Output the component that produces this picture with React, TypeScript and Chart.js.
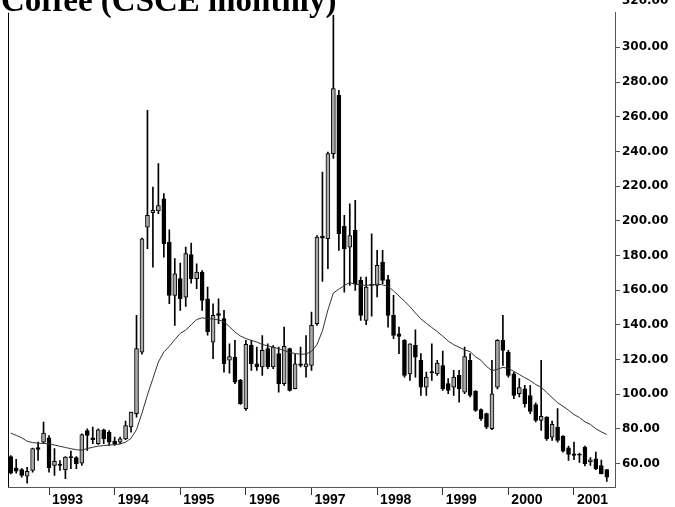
import React, { useEffect, useRef } from 'react';
import { Chart, registerables } from 'chart.js';

Chart.register(...registerables);

const TITLE = 'Coffee (CSCE monthly)';
const TOP_LABEL = '320.00';

// Monthly categories: Jun 1992 .. Aug 2001 (last slot empty)
const START_YEAR = 1992;
const START_MONTH = 6;
const N_SLOTS = 111;
const months: string[] = [];
for (let k = 0; k < N_SLOTS; k++) {
  const m = START_MONTH - 1 + k;
  const y = START_YEAR + Math.floor(m / 12);
  const mm = (m % 12) + 1;
  months.push(`${y}-${mm < 10 ? '0' + mm : mm}`);
}

const opens = [64.0,57.3,56.5,52.7,56.0,69.2,72.3,74.8,58.8,59.6,
56.4,64.0,63.3,60.2,79.0,74.8,71.4,79.4,78.0,72.9,
72.3,74.2,81.0,88.7,124.2,196.3,204.6,205.6,212.7,187.7,
156.9,166.6,155.9,180.4,166.6,170.4,155.0,130.0,146.4,143.5,
119.6,121.3,107.9,91.6,128.1,117.5,115.6,126.2,115.6,123.3,
106.0,126.2,103.1,117.5,115.6,116.5,140.6,191.2,189.6,238.7,
272.3,196.7,184.8,194.4,165.6,142.5,163.2,162.7,176.1,166.0,
145.4,134.8,131.0,111.7,128.1,119.4,104.0,113.0,111.7,116.5,
106.0,104.0,110.8,101.1,119.4,101.7,91.0,88.7,80.0,104.0,
131.0,124.2,111.7,100.2,103.1,99.2,94.0,84.8,86.7,75.2,
81.0,75.6,69.0,65.6,65.0,69.4,60.8,62.7,58.8,56.4];

const highs = [64.5,62.3,57.0,57.7,68.8,72.3,83.8,76.0,68.5,61.7,
64.0,67.1,64.0,77.1,80.0,81.0,80.0,79.8,79.0,75.2,
75.2,84.4,89.6,145.4,190.0,263.7,219.4,232.9,215.6,194.8,
178.1,175.6,184.8,187.1,175.2,171.3,161.7,152.1,155.0,148.3,
129.0,131.0,108.5,131.0,131.0,127.1,133.8,129.0,128.0,127.1,
138.6,126.5,123.0,127.1,133.8,147.3,191.5,228.0,239.6,318.5,
275.2,203.1,209.8,211.7,167.5,167.5,192.5,182.9,182.9,168.5,
156.9,138.6,131.5,129.0,137.1,123.3,112.7,129.0,119.4,124.8,
108.9,113.7,113.7,127.1,123.3,102.0,91.5,89.0,119.4,131.5,
145.4,125.2,112.7,108.9,105.0,105.0,95.0,119.4,87.0,84.4,
91.6,76.0,70.0,72.3,66.0,70.0,63.3,66.5,62.0,56.5];

const lows = [54.0,54.4,52.1,48.6,55.0,61.7,71.5,55.0,53.1,56.0,
51.2,57.0,57.0,58.8,67.5,71.4,71.0,71.4,70.4,70.4,
71.4,73.7,78.0,86.7,123.0,183.9,173.2,204.0,179.0,152.1,
139.6,148.3,150.6,164.0,160.8,148.3,134.0,120.4,140.6,112.7,
112.0,106.0,94.0,90.6,113.7,113.7,110.8,114.6,114.6,101.1,
105.0,101.7,103.0,115.6,109.8,113.7,139.6,165.0,172.3,236.0,
182.9,158.8,162.7,159.8,142.5,140.0,145.0,156.0,163.7,138.6,
131.9,123.3,109.8,107.9,109.8,99.2,99.2,107.9,110.8,102.1,
100.2,99.2,95.4,100.2,98.3,90.0,84.8,80.0,79.5,103.0,
116.5,109.8,97.3,98.3,92.5,88.7,84.0,79.0,73.3,73.3,
72.3,66.5,61.7,62.1,60.6,58.5,58.8,56.4,54.0,49.6];

const closes = [54.4,55.6,53.1,55.4,68.5,68.1,77.5,57.5,61.2,58.8,
63.6,63.3,59.8,76.6,76.2,73.7,79.4,74.2,72.3,71.4,
74.2,81.9,89.6,126.2,189.6,203.1,206.0,208.8,186.7,156.9,
169.4,155.0,181.0,166.6,170.4,154.0,136.0,145.4,145.4,117.5,
121.7,106.9,94.4,128.7,117.5,115.6,125.2,115.6,127.1,106.0,
127.5,102.1,117.5,116.5,117.5,139.6,190.6,190.0,238.7,276.2,
192.5,183.9,191.5,163.7,145.4,161.7,162.7,174.2,165.6,145.4,
133.8,133.3,110.8,129.0,121.3,104.0,109.8,112.2,117.9,103.1,
102.1,109.8,103.1,121.7,99.2,90.6,85.8,80.9,100.2,131.0,
125.2,110.8,99.2,103.7,94.4,90.0,84.8,87.1,74.2,82.5,
73.3,67.1,65.2,64.6,64.7,59.8,62.1,56.9,54.0,52.1];

const movingAvg = [77.5,76.2,74.8,72.8,72.0,71.7,71.5,71.4,70.6,69.9,
69.2,68.5,67.9,67.6,68.6,69.3,70.0,70.3,70.6,70.8,
71.2,72.3,74.5,79.5,89.0,99.5,109.0,118.5,124.3,127.5,
131.5,135.0,137.0,140.0,143.0,144.0,143.5,143.3,142.8,141.8,
138.8,135.8,133.5,132.0,131.0,130.0,128.6,127.8,127.0,126.2,
125.1,124.1,123.4,123.0,123.1,124.6,128.5,136.5,148.5,158.3,
160.5,162.6,164.4,163.3,163.0,162.7,163.0,163.4,163.0,162.2,
159.5,156.6,153.6,150.5,146.8,143.4,140.8,138.4,136.0,133.4,
130.6,128.5,127.0,125.5,124.5,121.5,119.5,116.0,113.5,114.3,
115.4,114.8,113.1,111.3,109.5,107.8,105.5,104.0,101.0,98.0,
95.0,93.0,90.7,88.2,86.5,84.0,82.5,80.0,78.2,76.7];

const Y_MIN = 46.4;
const Y_MAX = 320;
const Y_STEP = 20;

const isJan = (i: number) => !!months[i] && months[i].endsWith('-01');

const overlayPlugin = {
  id: 'overlay',
  afterDraw(chart: any) {
    const { ctx, chartArea } = chart;
    ctx.save();
    ctx.strokeStyle = '#000';
    ctx.lineWidth = 1;
    const lx = Math.round(chartArea.left) + 0.5;
    ctx.beginPath();
    ctx.moveTo(lx, chartArea.top);
    ctx.lineTo(lx, chartArea.bottom);
    ctx.stroke();
    ctx.fillStyle = '#000';
    ctx.textAlign = 'left';
    ctx.font = 'bold 33px "Liberation Serif"';
    ctx.textBaseline = 'alphabetic';
    ctx.fillText(TITLE, 1, 10.5);
    ctx.font = 'bold 12px "DejaVu Sans"';
    ctx.textBaseline = 'middle';
    ctx.fillText(TOP_LABEL, chartArea.right + 7, 0.5);
    ctx.restore();
  },
};

export default function App() {
  const ref = useRef<HTMLCanvasElement>(null);
  useEffect(() => {
    document.body.style.margin = '0';
    const chart = new Chart(ref.current as HTMLCanvasElement, {
      type: 'bar',
      data: {
        labels: months,
        datasets: [
          {
            type: 'line',
            label: 'Moving average',
            data: movingAvg,
            borderColor: '#333',
            borderWidth: 1,
            pointRadius: 0,
            fill: false,
            tension: 0,
          } as any,
          {
            type: 'bar',
            label: 'Body',
            data: opens.map((o, i) => [o, closes[i]]),
            backgroundColor: (c: any) => (closes[c.dataIndex] >= opens[c.dataIndex] ? '#a8a8a8' : '#000'),
            borderColor: '#000',
            borderWidth: 1,
            borderSkipped: false,
            barThickness: 4,
            grouped: false,
            minBarLength: 1,
          } as any,
          {
            type: 'bar',
            label: 'Range',
            data: lows.map((l, i) => [l, highs[i]]),
            backgroundColor: '#000',
            borderWidth: 0,
            barThickness: 1,
            grouped: false,
          } as any,
        ],
      },
      options: {
        responsive: false,
        animation: false,
        layout: { padding: { left: 8, top: 12.7, right: 0, bottom: 0 } },
        plugins: { legend: { display: false }, tooltip: { enabled: false } },
        scales: {
          x: {
            type: 'category',
            offset: true,
            grid: {
              offset: false,
              drawOnChartArea: false,
              drawTicks: true,
              tickLength: 8,
              color: (c: any) => (isJan(c.index) ? '#333' : 'rgba(0,0,0,0)'),
            },
            border: { color: '#555' },
            ticks: {
              autoSkip: false,
              maxRotation: 0,
              minRotation: 0,
              align: 'start',
              labelOffset: 3,
              padding: -3,
              color: '#000',
              font: { family: 'Liberation Sans', weight: 'bold', size: 14 },
              callback: (_v: any, i: number) => (isJan(i) ? months[i].slice(0, 4) : ''),
            },
            afterFit: (s: any) => {
              s.height = 20;
            },
          } as any,
          y: {
            type: 'linear',
            position: 'right',
            min: Y_MIN,
            max: Y_MAX,
            afterBuildTicks: (s: any) => {
              s.ticks = s.ticks.filter((t: any) => t.value !== Y_MAX);
            },
            grid: { drawOnChartArea: false, tickLength: 5, color: '#555' },
            border: { color: '#555' },
            ticks: {
              stepSize: Y_STEP,
              includeBounds: false,
              padding: 2,
              color: '#000',
              font: { family: 'DejaVu Sans', weight: 'bold', size: 12 },
              callback: (v: any) => Number(v).toFixed(2),
            },
            afterFit: (s: any) => {
              s.width = 60;
            },
          } as any,
        },
      },
      plugins: [overlayPlugin],
    });
    return () => chart.destroy();
  }, []);
  return (
    <div style={{ width: 675, height: 507, position: 'relative', overflow: 'hidden', background: '#fff' }}>
      <canvas ref={ref} width={675} height={507} style={{ display: 'block' }} />
    </div>
  );
}
